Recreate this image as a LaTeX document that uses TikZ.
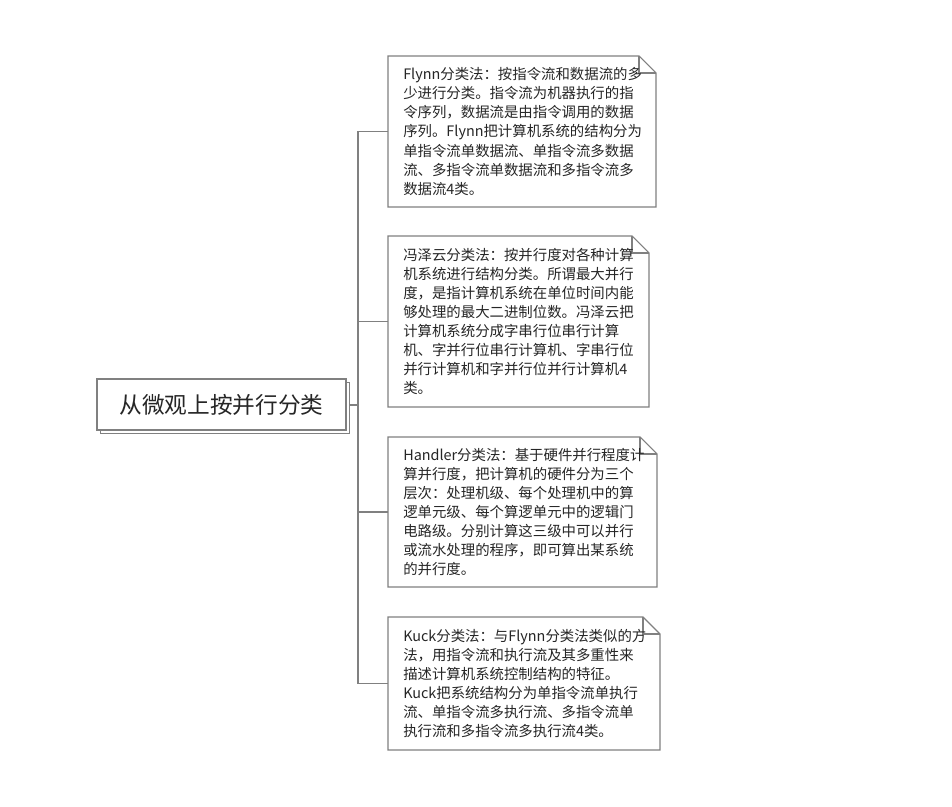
\documentclass[tikz,border=0pt]{standalone}
\usepackage{fontspec}
\newfontfamily\cjk{Noto Sans CJK SC}
\definecolor{lineg}{HTML}{808080}
\definecolor{txt}{HTML}{262626}
\begin{document}
\begin{tikzpicture}[x=0.75pt,y=-0.75pt,
  edge/.style={draw=lineg,line width=0.8pt},
  note/.style={draw=lineg,line width=0.8pt,fill=white},
  notetext/.style={anchor=west,inner sep=0pt,align=left,text=txt,font=\cjk\fontsize{10.8pt}{14.3pt}\selectfont},
  titletext/.style={inner sep=0pt,text=txt,font=\cjk\fontsize{17pt}{20pt}\selectfont}]
\useasboundingbox (0,0) rectangle (952,806);
% main node
\draw[note] (100.5,382.5) rectangle (349.5,433.5);
\draw[note] (97,379) rectangle (346,430);
\node[titletext] (main) at (221.5,404.5) {从微观上按并行分类};
\coordinate (mr) at (349.5,405);
\coordinate (bus) at (358,405);
% notes: x1,y1,x2,y2
\newcommand\notebox[5]{%
  \draw[note] (#1,#2) -- (#3-17,#2) -- (#3,#2+17) -- (#3,#4) -- (#1,#4) -- cycle;
  \draw[edge] (#3-17,#2) -- (#3-17,#2+17) -- (#3,#2+17);
  \coordinate (#5) at (#1,{(#2+#4)/2});
}
\notebox{388}{56}{656}{207}{n1}
\notebox{388}{236}{649}{407}{n2}
\notebox{388}{437}{657}{587}{n3}
\notebox{388}{617}{660}{750}{n4}
\node[notetext] (t1) at (403,131.5) {Flynn分类法：按指令流和数据流的多\\少进行分类。指令流为机器执行的指\\令序列，数据流是由指令调用的数据\\序列。Flynn把计算机系统的结构分为\\单指令流单数据流、单指令流多数据\\流、多指令流单数据流和多指令流多\\数据流4类。};
\node[notetext] (t2) at (403,321.5) {冯泽云分类法：按并行度对各种计算\\机系统进行结构分类。所谓最大并行\\度，是指计算机系统在单位时间内能\\够处理的最大二进制位数。冯泽云把\\计算机系统分成字串行位串行计算\\机、字并行位串行计算机、字串行位\\并行计算机和字并行位并行计算机4\\类。};
\node[notetext] (t3) at (403,512) {Handler分类法：基于硬件并行程度计\\算并行度，把计算机的硬件分为三个\\层次：处理机级、每个处理机中的算\\逻单元级、每个算逻单元中的逻辑门\\电路级。分别计算这三级中可以并行\\或流水处理的程序，即可算出某系统\\的并行度。};
\node[notetext] (t4) at (403,683.5) {Kuck分类法：与Flynn分类法类似的方\\法，用指令流和执行流及其多重性来\\描述计算机系统控制结构的特征。\\Kuck把系统结构分为单指令流单执行\\流、单指令流多执行流、多指令流单\\执行流和多指令流多执行流4类。};
% connectors
\draw[edge] (mr) -- (bus);
\draw[edge] (n1) -| (bus) |- (n4);
\draw[edge] (bus |- n2) -- (n2);
\draw[edge] (bus |- n3) -- (n3);
\end{tikzpicture}
\end{document}
